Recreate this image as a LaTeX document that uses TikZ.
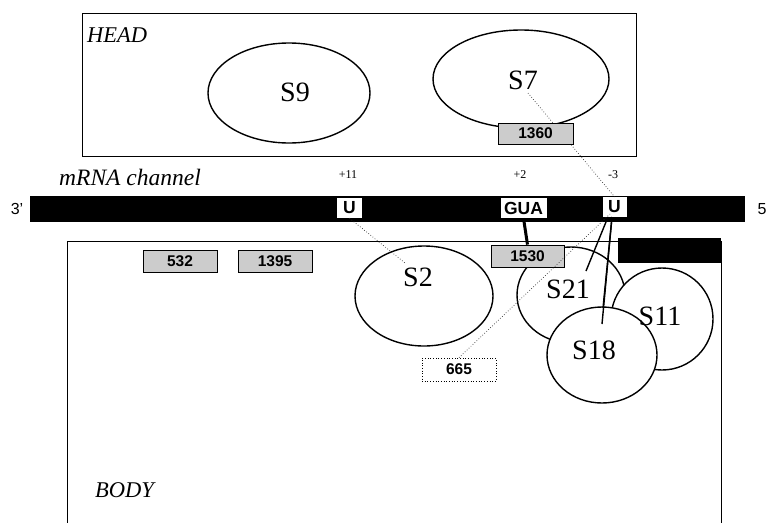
\documentclass[tikz,border=0pt]{standalone}
\usepackage{fontspec}
\setmainfont{Liberation Serif}
\setsansfont{Liberation Sans}
\begin{document}
\begin{tikzpicture}[x=1pt,y=-1pt,
  protein/.style={draw,line width=1.4pt,fill=white},
  plab/.style={font=\fontsize{28}{30}\selectfont,inner sep=0pt},
  region/.style={font=\itshape\fontsize{22.5}{24}\selectfont,inner sep=0pt},
  posnum/.style={font=\fontsize{12}{14}\selectfont,inner sep=0pt},
  rnabox/.style={draw,line width=0.8pt,fill=gray!40,font=\sffamily\bfseries\fontsize{15.5}{17}\selectfont,inner sep=0pt,minimum width=74pt,minimum height=22pt},
  nucl/.style={fill=white,font=\sffamily\bfseries\fontsize{17.5}{19}\selectfont,inner sep=0pt,minimum height=20pt},
  dotline/.style={dotted,line width=0.7pt,black!80},
  contact/.style={line width=1.4pt}]
\useasboundingbox (0,0) rectangle (767,522);
\fill[white] (0,0) rectangle (767,522);
% HEAD
\draw[line width=0.9pt] (82,13) rectangle (636,156);
\node[region,anchor=west] (head) at (87,35) {HEAD};
\draw[protein] (289,93) ellipse (81 and 50);
\node[plab] (s9) at (295,92) {S9};
\draw[protein] (521,79) ellipse (88 and 49);
\node[plab] (s7) at (523,80) {S7};
% mRNA label and positions
\node[region,anchor=west,font=\itshape\fontsize{23.5}{25}\selectfont] (mrna) at (59,177) {mRNA channel};
\node[posnum] (p11) at (348,175) {+11};
\node[posnum] (p2) at (520,175) {+2};
\node[posnum] (m3) at (613,175) {-3};
% mRNA bar
\fill[black] (30,196) rectangle (745,222);
\node[font=\sffamily\fontsize{16}{18}\selectfont,inner sep=0pt] (three) at (17,209) {3'};
\node[font=\sffamily\fontsize{16}{18}\selectfont,inner sep=0pt] (five) at (762,209) {5};
\node[nucl,minimum width=25pt] (u1) at (349.5,208) {U};
\node[nucl,minimum width=46pt] (gua) at (523.5,208) {GUA};
\node[nucl,minimum width=24pt] (u3) at (614.5,207) {U};
% dotted S7 - U3 (under 1360)
\coordinate (s7end) at (528,93);
\draw[dotline] (s7end) -- (u3.north);
\node[rnabox,minimum width=75pt,minimum height=21pt] (r1360) at (535.5,133.5) {1360};
% BODY
\draw[line width=0.9pt] (67,530) -- (67,241) -- (721,241) -- (721,530);
\fill[black] (618,238) rectangle (721,263);
\node[region,anchor=west] (body) at (95,490) {BODY};
\node[rnabox] (r532) at (180,261.5) {532};
\node[rnabox] (r1395) at (275,261.5) {1395};
% body proteins
\draw[protein] (424,296) ellipse (69 and 50);
\node[plab] (s2) at (418,277) {S2};
\draw[protein] (571,295) ellipse (54 and 48);
\draw[protein] (662,319) ellipse (51 and 51);
\draw[protein] (602,355) ellipse (55 and 48);
\node[rnabox,minimum width=73pt] (r1530) at (527.5,256) {1530};
\node[plab] (s21) at (568,289) {S21};
\node[plab] (s11) at (660,316) {S11};
\node[plab] (s18) at (594,350) {S18};
\node[draw,dotted,line width=0.7pt,fill=white,font=\sffamily\bfseries\fontsize{15.5}{17}\selectfont,inner sep=0pt,minimum width=74pt,minimum height=23pt] (r665) at (459,369.5) {665};
% dotted connectors
\coordinate (s2end) at (405,263);
\draw[dotline] (u1.south) -- (s2end);
\coordinate (u3sw) at (610,214);
\draw[dotline] (r665.north) -- (u3sw);
% contacts
\coordinate (c21) at (586,271);
\coordinate (c18a) at (603,308);
\coordinate (c18b) at (602,324);
\coordinate (u3a) at (608,217);
\coordinate (u3b) at (612,217);
\draw[contact] (u3a) -- (c21);
\draw[contact] (u3b) -- (c18a);
\draw[contact] (u3b) -- (c18b);
\draw[line width=3pt] (gua.south) -- (r1530.north);
\end{tikzpicture}
\end{document}
